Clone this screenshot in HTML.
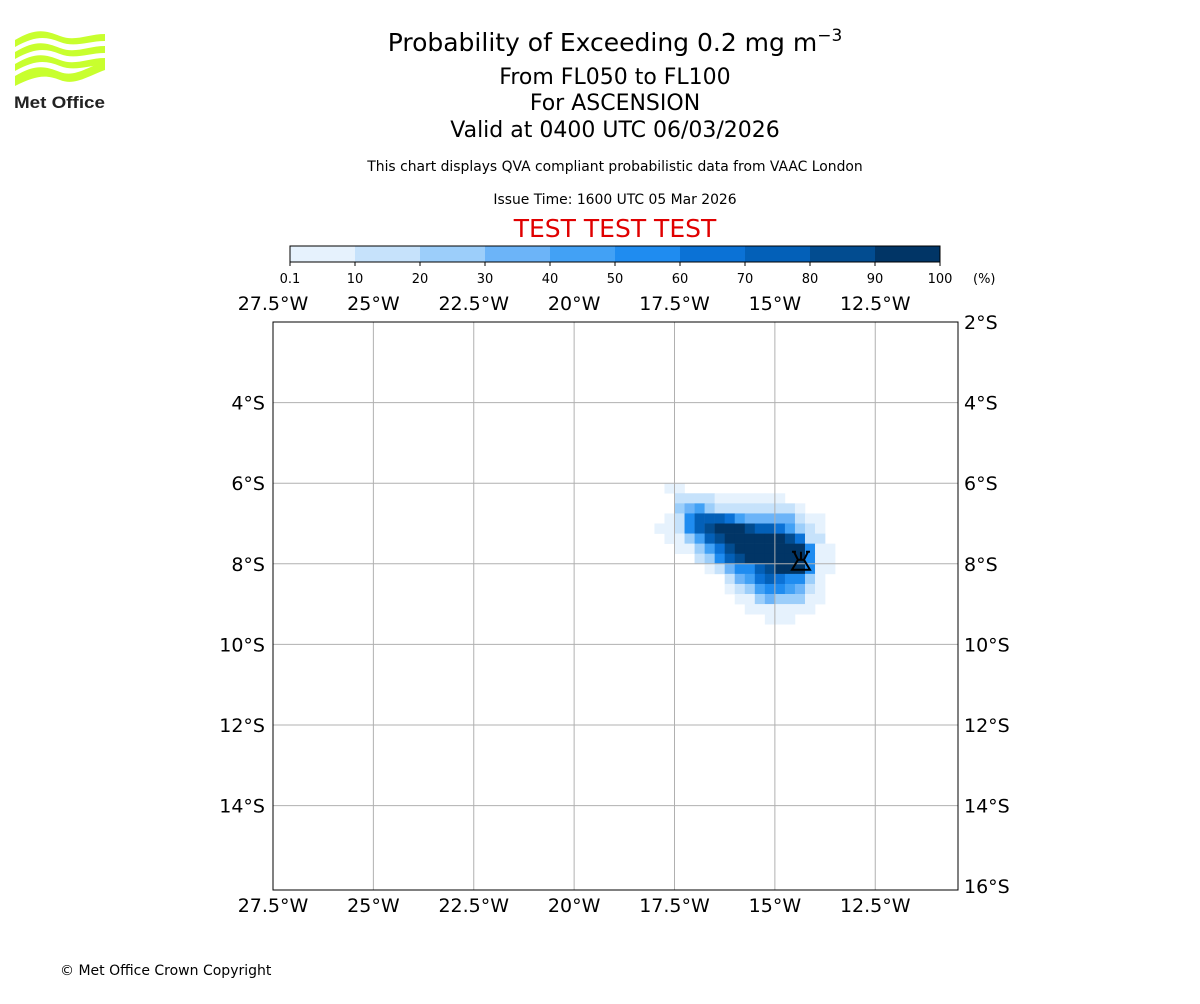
<!DOCTYPE html>
<html><head><meta charset="utf-8"><style>
body{margin:0;background:#fff;width:1200px;height:1000px;overflow:hidden;font-family:"DejaVu Sans","Liberation Sans",sans-serif}
svg text{font-family:"DejaVu Sans","Liberation Sans",sans-serif}
</style></head><body>
<svg id="chart" width="1200" height="1000" viewBox="0 0 1200 1000">
<g fill="#c8ff2e">
<path d="M15 40 C35 28 45 30 60 36 C75 42 88 34 105 34 L105 41 C88 41 75 48 60 42 C45 36 35 36 15 47Z"/>
<path d="M15 52 C35 40 45 42 60 48 C75 54 88 46 105 46 L105 53 C88 53 75 60 60 54 C45 48 35 48 15 59Z"/>
<path d="M15 64 C35 52 45 54 60 60 C75 66 88 58 105 58 L105 65 C88 65 75 72 60 66 C45 60 35 60 15 71Z"/>
<path d="M15 76 C35 64 45 66 60 72 C75 78 88 66 105 62 L105 70 C88 76 75 86 60 80 C45 74 35 76 15 86Z"/>
<text x="14" y="108" font-size="17" font-weight="bold" fill="#222" textLength="91" lengthAdjust="spacingAndGlyphs" style="font-family:'Liberation Sans',sans-serif">Met Office</text>
</g>
<text x="615" y="51" font-size="25" text-anchor="middle">Probability of Exceeding 0.2 mg m<tspan dy="-10" font-size="17">−3</tspan></text>
<text x="615" y="84" font-size="22" text-anchor="middle">From FL050 to FL100</text>
<text x="615" y="110" font-size="22" text-anchor="middle">For ASCENSION</text>
<text x="615" y="137" font-size="22" text-anchor="middle">Valid at 0400 UTC 06/03/2026</text>
<text x="615" y="171" font-size="13.9" text-anchor="middle">This chart displays QVA compliant probabilistic data from VAAC London</text>
<text x="615" y="204" font-size="13.9" text-anchor="middle">Issue Time: 1600 UTC 05 Mar 2026</text>
<text x="615" y="237" font-size="25" text-anchor="middle" fill="#e00000">TEST TEST TEST</text>
<g id="colorbar"></g>
<g id="map"></g>
<text x="60" y="975" font-size="14">© Met Office Crown Copyright</text>
</svg>
<script>
const cbLabels=["0.1","10","20","30","40","50","60","70","80","90","100"];
const levelColors=["#e6f2fd","#c6e2fb","#9ccefa","#6cb4f8","#42a1f5","#1f8cf0","#0b72d6","#0360b8","#024c90","#013566"];
const lonTicks=[-27.5,-25,-22.5,-20,-17.5,-15,-12.5];
const latTicks=[-2,-4,-6,-8,-10,-12,-14,-16];
const gridLon0=-18.25, gridLat0=-6, cellDeg=0.25;
// probability (%) per cell, rows from north to south, columns west to east; null = none
const probRows=[
[null,null,5,5],
[null,null,null,15,15,15,15,5,5,5,5,5,5,5],
[null,null,null,25,35,45,25,15,15,15,15,15,15,15,15,5],
[null,null,5,15,55,75,75,75,65,45,35,35,35,35,35,15,5,5],
[null,5,5,15,55,75,85,95,95,95,85,75,75,65,45,25,15,5],
[null,null,5,5,25,45,75,85,95,95,95,95,95,95,85,65,15,15],
[null,null,null,5,5,25,45,65,85,95,95,95,95,95,95,95,55,5,5],
[null,null,null,null,null,15,25,55,75,85,95,95,95,95,95,95,55,5,5],
[null,null,null,null,null,null,5,15,35,55,55,75,85,95,95,95,55,5,5],
[null,null,null,null,null,null,null,null,15,35,45,65,75,65,55,55,25,5],
[null,null,null,null,null,null,null,null,5,15,25,45,55,55,45,35,15,5],
[null,null,null,null,null,null,null,null,null,5,5,25,35,25,25,25,5,5],
[null,null,null,null,null,null,null,null,null,null,5,5,5,5,5,5,5],
[null,null,null,null,null,null,null,null,null,null,null,null,5,5,5]
];
const volcano={lon:-14.35,lat:-7.95,name:"Ascension"};
const NS="http://www.w3.org/2000/svg";
const X0=273,X1=958,Y0=322,Y1=890,LONMIN=-27.5,LATMAX=-2;
const xs=lon=>X0+(lon-LONMIN)*40.15;
const ys=lat=>Y0+(LATMAX-lat)*40.3;
function mk(t,a,p){const e=document.createElementNS(NS,t);for(const k in a)e.setAttribute(k,a[k]);p.appendChild(e);return e;}
function lvl(v){if(v<10)return 0;return Math.min(9,Math.floor(v/10));}
const cb=document.getElementById('colorbar');
const cbx=290,cbw=650,cby=246,cbh=16,seg=cbw/levelColors.length;
levelColors.forEach((c,i)=>{const r=mk('rect',{x:cbx+i*seg,y:cby,width:seg+0.5,height:cbh,fill:c},cb);

});
mk('rect',{x:cbx,y:cby,width:cbw,height:cbh,fill:'none',stroke:'#000','stroke-width':1},cb);
cbLabels.forEach((l,i)=>{const x=cbx+i*seg;mk('line',{x1:x,x2:x,y1:cby+cbh,y2:cby+cbh+4,stroke:'#000'},cb);
const t=mk('text',{x:x,y:283,'font-size':13,'text-anchor':'middle'},cb);t.textContent=l;

});
const pu=mk('text',{x:973,y:283,'font-size':13},cb);pu.textContent="(%)";


const m=document.getElementById('map');
probRows.forEach((row,r)=>row.forEach((v,c)=>{if(v==null)return;
const lon=gridLon0+c*cellDeg,lat=gridLat0-r*cellDeg;
const x=xs(lon),y=ys(lat);
const e=mk('rect',{x:x,y:y,width:xs(lon+cellDeg)-x+0.3,height:ys(lat-cellDeg)-y+0.3,fill:levelColors[lvl(v)]},m);

}));
lonTicks.forEach(l=>{const x=xs(l);if(l>LONMIN)mk('line',{x1:x,x2:x,y1:Y0,y2:Y1,stroke:'#b0b0b0','stroke-width':1},m);
[310,912].forEach(y=>{const t=mk('text',{x:x,y:y,'font-size':19,'text-anchor':'middle'},m);t.textContent=Math.abs(l)+"°W";

});});
latTicks.forEach(l=>{const y=ys(l);const inner=l<LATMAX&&l>-16;if(inner)mk('line',{x1:X0,x2:X1,y1:y,y2:y,stroke:'#b0b0b0','stroke-width':1},m);
const yy=Math.min(y,Y1-3)+7;
if(inner){const t1=mk('text',{x:265,y:yy,'font-size':19,'text-anchor':'end'},m);t1.textContent=Math.abs(l)+"°S";

}
const t2=mk('text',{x:964,y:yy,'font-size':19},m);t2.textContent=Math.abs(l)+"°S";

});
mk('rect',{x:X0,y:Y0,width:X1-X0,height:Y1-Y0,fill:'none',stroke:'#000','stroke-width':1},m);
const vx=xs(volcano.lon),vy=ys(volcano.lat);
const vg=mk('g',{},m);


mk('path',{d:`M${vx-7} ${vy-10} L${vx-3} ${vy-2} L${vx-9} ${vy+8} L${vx+9} ${vy+8} L${vx+3} ${vy-2} L${vx+7} ${vy-10} M${vx-4} ${vy-2} L${vx+4} ${vy-2} M${vx} ${vy-10} L${vx} ${vy-2} M${vx-9} ${vy-10} L${vx-5} ${vy-10} M${vx+5} ${vy-10} L${vx+9} ${vy-10}`,fill:'none',stroke:'#000','stroke-width':2},vg);
</script>
</body></html>
